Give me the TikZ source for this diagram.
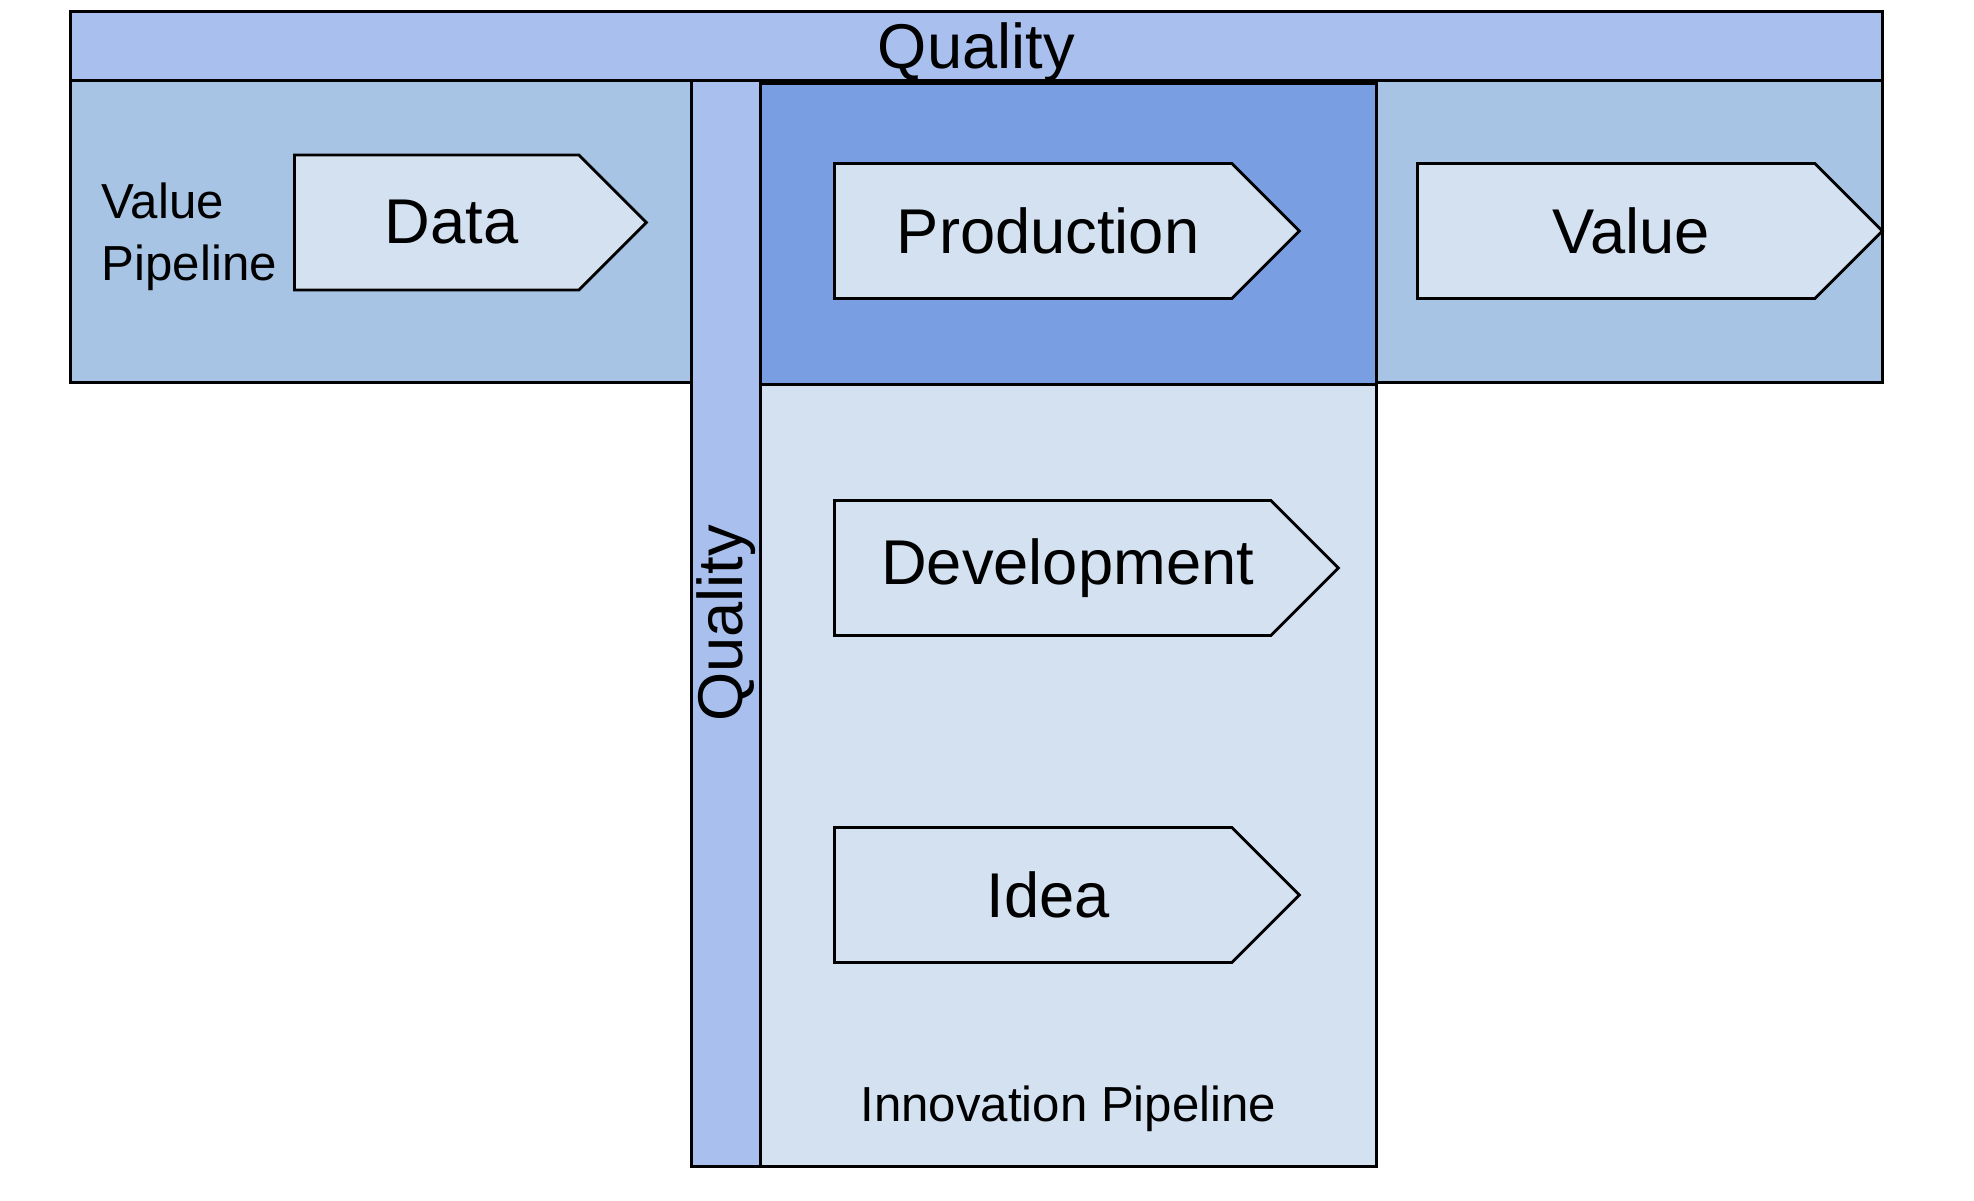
\documentclass[tikz,border=0pt]{standalone}
\usepackage{fontspec}
\setmainfont{Liberation Sans}
\usepackage{tikz}
\usetikzlibrary{positioning,shapes.symbols}
\definecolor{qualblue}{RGB}{169,192,238}
\definecolor{pipeblue}{RGB}{168,196,228}
\definecolor{prodblue}{RGB}{121,158,226}
\definecolor{paleblue}{RGB}{212,225,241}
\tikzset{
  band/.style={draw=black, line width=0.8pt, rectangle, inner sep=0pt, anchor=north west},
  stage/.style={signal, signal to=east, signal from=nowhere, signal pointer angle=90,
    draw=black, line width=0.8pt, fill=paleblue, minimum height=13.5mm, inner sep=0pt,
    anchor=west, font=\fontsize{18}{21}\selectfont,
    execute at begin node={\hspace*{3mm}}},
  pipelabel/.style={inner sep=0pt, align=left, font=\fontsize{14}{17.5}\selectfont},
  quallabel/.style={inner sep=0pt, font=\fontsize{18}{21}\selectfont}
}
\begin{document}
\begin{tikzpicture}
\useasboundingbox (0,0) rectangle (19.74,-12);
% value pipeline row
\node[band, fill=qualblue, minimum width=181.2mm, minimum height=6.9mm] (topqual) at (0.69,-0.10) {};
\node[quallabel, yshift=-0.6mm] at (topqual.center) {Quality};
\node[band, fill=pipeblue, minimum width=62.1mm, minimum height=30.2mm] (leftpipe) at (0.69,-0.79) {};
\node[band, fill=pipeblue, minimum width=50.6mm, minimum height=30.2mm] (rightpipe) at (13.75,-0.79) {};
% innovation pipeline column
\node[band, fill=paleblue, minimum width=61.6mm, minimum height=78.2mm] (innobox) at (7.59,-3.83) {};
\node[band, fill=prodblue, minimum width=61.6mm, minimum height=30.1mm] (prodbox) at (7.59,-0.82) {};
\node[band, fill=qualblue, minimum width=6.9mm, minimum height=108.6mm] (sidequal) at (6.90,-0.79) {};
\node[quallabel, rotate=90] at (sidequal.center) {Quality};

% stages
\node[stage, minimum width=35.2mm] (data) at (2.93,-2.225) {Data};
\node[stage, minimum width=46.5mm] (production) at (8.33,-2.31) {Production};
\node[stage, minimum width=46.5mm] (value) at (14.16,-2.31) {Value};
\node[stage, minimum width=50.4mm] (development) at (8.33,-5.68) {Development};
\node[stage, minimum width=46.5mm] (idea) at (8.33,-8.95) {Idea};

\node[pipelabel, anchor=west] (valuelbl) at (1.01,-2.37) {Value\\Pipeline};
\node[pipelabel, above=3.5mm of innobox.south] (innolbl) {Innovation Pipeline};
\end{tikzpicture}
\end{document}
